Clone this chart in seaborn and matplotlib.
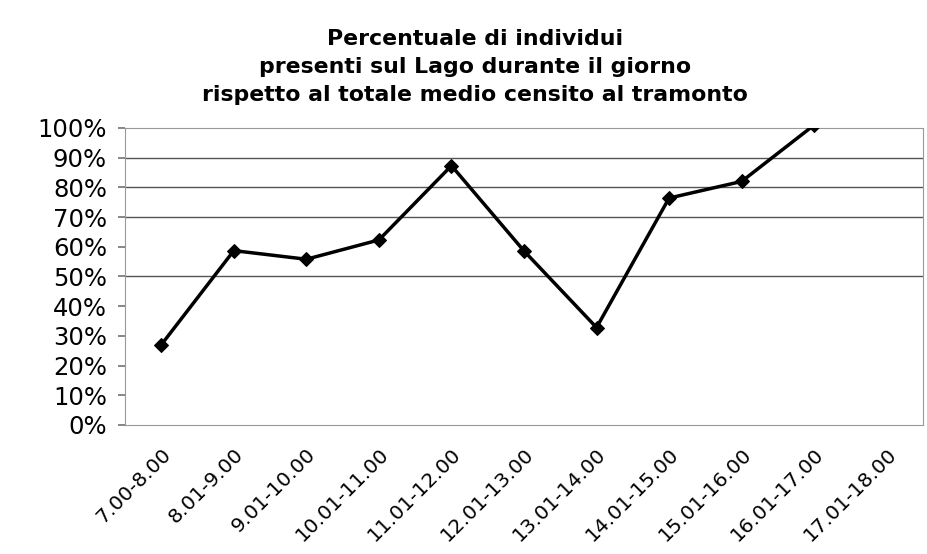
import numpy as np
import pandas as pd
import matplotlib
matplotlib.use("Agg")
import matplotlib.pyplot as plt
import matplotlib.transforms as mtransforms
import seaborn as sns

categories = ["7.00-8.00", "8.01-9.00", "9.01-10.00", "10.01-11.00", "11.01-12.00",
              "12.01-13.00", "13.01-14.00", "14.01-15.00", "15.01-16.00",
              "16.01-17.00", "17.01-18.00"]
values = [27, 58.7, 55.8, 62.3, 87.3, 58.6, 32.8, 76.4, 82, 101, np.nan]
y_ticks = [0, 10, 20, 30, 40, 50, 60, 70, 80, 90, 100]
y_tick_labels = [f"{v}%" for v in y_ticks]
grid_levels = [50, 70, 80, 90]
title = ("Percentuale di individui\n"
         "presenti sul Lago durante il giorno\n"
         "rispetto al totale medio censito al tramonto")

sns.set_theme(style="white")
plt.rcParams['font.family'] = ['DejaVu Sans']

df = pd.DataFrame({"fascia": categories, "perc": values})
df["x"] = np.arange(len(categories))

fig = plt.figure(figsize=(9.28, 5.54), dpi=100)
ax = fig.add_axes([0.1347, 0.2329, 0.9946 - 0.1347, 0.769 - 0.2329])

for g in grid_levels:
    ax.axhline(g, color="#555555", lw=1.0, zorder=1)

sns.lineplot(data=df, x="x", y="perc", ax=ax, color="black", lw=2.5,
             marker="D", markersize=7, markeredgecolor="black", zorder=3)

ax.set_xlim(-0.5, len(categories) - 0.5)
ax.set_ylim(0, 100)
ax.set_xticks(df["x"])
ax.set_xticklabels(categories, rotation=45, ha="right", rotation_mode="anchor",
                   fontsize=14.5, color="black")
offset = mtransforms.ScaledTranslation(-22 / 100, -4 / 100, fig.dpi_scale_trans)
for lab in ax.get_xticklabels():
    lab.set_transform(lab.get_transform() + offset)
ax.set_yticks(y_ticks)
ax.set_yticklabels(y_tick_labels, fontsize=17.5, color="black")
ax.set_xlabel("")
ax.set_ylabel("")
ax.tick_params(axis="x", length=0, pad=14)
ax.tick_params(axis="y", length=5, color="#777777", pad=8, left=True)
for s in ax.spines.values():
    s.set_color("#999999")
    s.set_linewidth(0.8)
    s.set_linestyle((0, (1, 1)))

fig.text(0.512, 0.947, title, ha="center", va="top", fontsize=15.8,
         fontweight="bold", linespacing=1.48, color="black")

fig.savefig("out.png", dpi=100)
